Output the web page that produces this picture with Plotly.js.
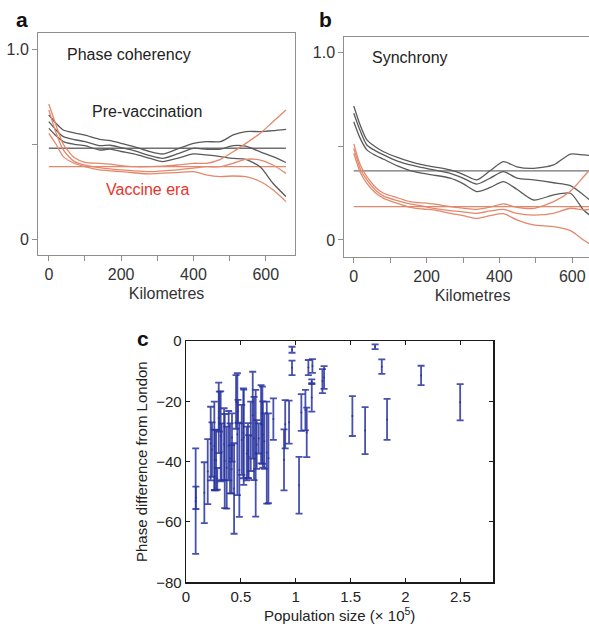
<!DOCTYPE html>
<html>
<head>
<meta charset="utf-8">
<script src="https://cdn.plot.ly/plotly-3.0.1.min.js"></script>
<style>
html, body { margin:0; padding:0; overflow:hidden; background:#fff; }
#chart { width:640px; height:629px; }
</style>
</head>
<body>
<div id="chart"></div>
<script>
// ---------- Panel a : phase coherency ----------
const kmA = [0, 20, 40, 70, 100, 140, 170, 200, 235, 280, 315, 355, 400, 435, 475, 510, 545, 585, 620, 656];
const aPreUpper = [0.654, 0.61, 0.575, 0.56, 0.548, 0.526, 0.519, 0.505, 0.488, 0.461, 0.449, 0.475, 0.505, 0.514, 0.514, 0.549, 0.567, 0.567, 0.572, 0.579];
const aPreMid   = [0.619, 0.575, 0.54, 0.525, 0.514, 0.493, 0.495, 0.482, 0.467, 0.44, 0.426, 0.449, 0.479, 0.474, 0.474, 0.493, 0.49, 0.46, 0.435, 0.404];
const aPreLower = [0.584, 0.545, 0.514, 0.5, 0.493, 0.47, 0.475, 0.462, 0.449, 0.426, 0.409, 0.426, 0.449, 0.444, 0.435, 0.426, 0.421, 0.38, 0.295, 0.225];
const aVacUpper = [0.712, 0.6, 0.5, 0.43, 0.405, 0.4, 0.395, 0.388, 0.382, 0.382, 0.385, 0.391, 0.4, 0.4, 0.421, 0.461, 0.505, 0.558, 0.619, 0.68];
const aVacMid   = [0.68, 0.56, 0.47, 0.41, 0.39, 0.377, 0.37, 0.365, 0.36, 0.356, 0.36, 0.365, 0.374, 0.382, 0.382, 0.4, 0.421, 0.417, 0.391, 0.347];
const aVacLower = [0.558, 0.5, 0.435, 0.4, 0.382, 0.365, 0.36, 0.356, 0.35, 0.344, 0.348, 0.351, 0.356, 0.339, 0.33, 0.333, 0.33, 0.304, 0.26, 0.198];
const aPreMean = 0.479;
const aVacMean = 0.382;

// ---------- Panel b : synchrony ----------
const kmB = [0, 18, 36, 60, 82, 120, 155, 190, 219, 265, 300, 338, 375, 411, 448, 494, 549, 595, 631, 656];
const bPreUpper = [0.714, 0.61, 0.533, 0.495, 0.47, 0.44, 0.417, 0.40, 0.39, 0.373, 0.35, 0.32, 0.37, 0.417, 0.39, 0.382, 0.40, 0.458, 0.453, 0.45];
const bPreMid   = [0.675, 0.58, 0.506, 0.475, 0.453, 0.42, 0.40, 0.385, 0.373, 0.355, 0.33, 0.298, 0.33, 0.364, 0.33, 0.32, 0.305, 0.29, 0.24, 0.20];
const bPreLower = [0.63, 0.54, 0.48, 0.45, 0.43, 0.395, 0.37, 0.355, 0.346, 0.329, 0.30, 0.258, 0.28, 0.311, 0.27, 0.213, 0.24, 0.249, 0.16, 0.12];
const bVacUpper = [0.512, 0.40, 0.337, 0.28, 0.249, 0.225, 0.204, 0.198, 0.192, 0.178, 0.17, 0.163, 0.175, 0.192, 0.174, 0.169, 0.204, 0.26, 0.337, 0.39];
const bVacMid   = [0.488, 0.38, 0.32, 0.265, 0.234, 0.21, 0.192, 0.18, 0.169, 0.156, 0.15, 0.142, 0.155, 0.163, 0.142, 0.133, 0.142, 0.169, 0.16, 0.165];
const bVacLower = [0.462, 0.36, 0.302, 0.25, 0.222, 0.195, 0.174, 0.165, 0.16, 0.142, 0.13, 0.115, 0.13, 0.14, 0.107, 0.08, 0.071, 0.05, 0.0, -0.03];
const bPreMean = 0.368;
const bVacMean = 0.178;
const meanSpan = [0, 656];

// ---------- Panel c : phase difference vs population ----------
const popSize = [0.088, 0.090, 0.167, 0.198, 0.225, 0.237, 0.258, 0.261, 0.274, 0.285, 0.298, 0.304, 0.316, 0.325, 0.347, 0.353, 0.371, 0.389, 0.401, 0.416, 0.419, 0.438, 0.456, 0.468, 0.474, 0.486, 0.508, 0.523, 0.526, 0.553, 0.565, 0.571, 0.590, 0.608, 0.620, 0.635, 0.644, 0.663, 0.684, 0.696, 0.700, 0.714, 0.736, 0.751, 0.796, 0.893, 0.904, 0.939, 0.966, 0.966, 1.030, 1.051, 1.088, 1.100, 1.115, 1.146, 1.146, 1.152, 1.243, 1.258, 1.516, 1.632, 1.723, 1.784, 1.832, 2.142, 2.498];
const phaseDiff = [-53.1, -52.0, -50.3, -43.3, -34.0, -36.0, -34.8, -39.4, -39.5, -45.7, -25.5, -23.4, -31.6, -36.7, -34.2, -39.8, -42.0, -34.7, -38.9, -42.5, -32.0, -48.9, -20.2, -30.9, -23.3, -42.8, -32.8, -30.6, -31.9, -37.3, -36.3, -38.4, -31.6, -24.6, -32.3, -37.2, -34.3, -32.3, -27.6, -27.9, -31.0, -33.2, -37.0, -38.9, -25.9, -39.4, -27.6, -26.9, -2.9, -8.9, -47.8, -23.7, -22.9, -30.3, -8.8, -13.5, -18.7, -8.3, -13.3, -12.1, -24.9, -29.7, -1.9, -8.5, -26.0, -11.4, -20.3];
const phaseErr = [17.5, 3.7, 10.1, 10.8, 12.2, 9.0, 14.7, 10.0, 10.0, 3.6, 11.7, 6.6, 14.9, 9.4, 11.9, 15.6, 13.6, 11.5, 11.6, 8.0, 8.0, 15.0, 8.9, 20.2, 3.8, 15.5, 11.6, 14.9, 15.8, 8.9, 9.1, 7.2, 11.5, 14.4, 13.8, 21.0, 8.1, 5.0, 13.0, 12.8, 11.0, 9.2, 16.9, 14.9, 6.9, 10.1, 8.0, 7.1, 1.0, 2.4, 9.4, 6.1, 6.7, 8.2, 2.5, 0.8, 4.7, 2.3, 4.0, 3.8, 6.6, 7.8, 0.8, 2.4, 6.8, 3.2, 6.0];

// tick labels
const kmTickVals = [0, 200, 400, 600];
const kmTickText = ['0', '200', '400', '600'];
const kmMinorVals = [100, 300, 500];
const corrTickVals = [0, 1];
const corrTickText = ['0', '1.0'];
const corrMinorVals = [0.5];
const popTickVals = [0, 0.5, 1, 1.5, 2, 2.5];
const popTickText = ['0', '0.5', '1', '1.5', '2', '2.5'];
const phaseTickVals = [0, -20, -40, -60, -80];
const phaseTickText = ['0', '−20', '−40', '−60', '−80'];

// ---------- styling ----------
const W = 640, H = 629;
const FONT = 'Liberation Sans, Arial, Helvetica, sans-serif';
const GRAY = '#5a5a5a';
const ORANGE = '#e4886b';
const BLUE = 'rgba(40,50,158,0.85)';
const px = v => v / W;
const py = v => 1 - v / H;

function curve(x, y, color, xa, ya) {
  return { x: x, y: y, xaxis: xa, yaxis: ya, type: 'scatter', mode: 'lines',
           line: { color: color, width: 1.3, shape: 'spline', smoothing: 0.7 },
           hoverinfo: 'skip' };
}
function hline(v, color, xa, ya) {
  return { x: meanSpan, y: [v, v], xaxis: xa, yaxis: ya, type: 'scatter', mode: 'lines',
           line: { color: color, width: 1.3 }, hoverinfo: 'skip' };
}

const traces = [
  hline(aPreMean, '#707070', 'x', 'y'),
  hline(aVacMean, ORANGE, 'x', 'y'),
  curve(kmA, aPreUpper, GRAY, 'x', 'y'),
  curve(kmA, aPreMid, GRAY, 'x', 'y'),
  curve(kmA, aPreLower, GRAY, 'x', 'y'),
  curve(kmA, aVacUpper, ORANGE, 'x', 'y'),
  curve(kmA, aVacMid, ORANGE, 'x', 'y'),
  curve(kmA, aVacLower, ORANGE, 'x', 'y'),

  hline(bPreMean, '#707070', 'x2', 'y2'),
  hline(bVacMean, ORANGE, 'x2', 'y2'),
  curve(kmB, bPreUpper, GRAY, 'x2', 'y2'),
  curve(kmB, bPreMid, GRAY, 'x2', 'y2'),
  curve(kmB, bPreLower, GRAY, 'x2', 'y2'),
  curve(kmB, bVacUpper, ORANGE, 'x2', 'y2'),
  curve(kmB, bVacMid, ORANGE, 'x2', 'y2'),
  curve(kmB, bVacLower, ORANGE, 'x2', 'y2'),

  { x: popSize, y: phaseDiff, xaxis: 'x3', yaxis: 'y3', type: 'scatter', mode: 'markers',
    marker: { color: BLUE, size: 2 },
    error_y: { type: 'data', array: phaseErr, symmetric: true, color: BLUE, thickness: 1.8, width: 3.5 },
    hoverinfo: 'skip' }
];

const frameAxis = {
  showline: true, mirror: true, linecolor: '#8f8f8f', linewidth: 1,
  ticks: 'outside', ticklen: 5, tickcolor: '#8f8f8f', tickwidth: 1,
  showgrid: false, zeroline: false, fixedrange: true,
  tickfont: { family: FONT, size: 16, color: '#333' }
};
const kmTitle = { text: 'Kilometres', font: { family: FONT, size: 16, color: '#333' }, standoff: 5 };
const kmAxis = { tickmode: 'array', tickvals: kmTickVals, ticktext: kmTickText,
  minor: { tickmode: 'array', tickvals: kmMinorVals, ticks: 'outside', ticklen: 5, tickcolor: '#8f8f8f', tickwidth: 1 } };
const corrAxis = { tickmode: 'array', tickvals: corrTickVals, ticktext: corrTickText,
  minor: { tickmode: 'array', tickvals: corrMinorVals, ticks: 'outside', ticklen: 5, tickcolor: '#8f8f8f', tickwidth: 1 } };

const cAxis = {
  showline: true, mirror: 'ticks', linecolor: '#1a1a1a', linewidth: 1.3,
  ticks: 'inside', ticklen: 4, tickcolor: '#1a1a1a', tickwidth: 1,
  showgrid: false, zeroline: false, fixedrange: true,
  tickfont: { family: FONT, size: 15, color: '#222' }
};

const layout = {
  width: W, height: H, autosize: false,
  margin: { l: 0, r: 0, t: 0, b: 0 },
  paper_bgcolor: '#fff', plot_bgcolor: '#fff',
  showlegend: false,
  font: { family: FONT, color: '#222' },
  xaxis: Object.assign({}, frameAxis, kmAxis, { domain: [px(38), px(295)], range: [-30, 681], anchor: 'y', title: kmTitle }),
  yaxis: Object.assign({}, frameAxis, corrAxis, { domain: [py(255), py(33)], range: [-0.083, 1.086], anchor: 'x' }),
  xaxis2: Object.assign({}, frameAxis, kmAxis, { domain: [px(344.3), px(601)], range: [-26, 679], anchor: 'y2', title: kmTitle }),
  yaxis2: Object.assign({}, frameAxis, corrAxis, { domain: [py(256.7), py(36.7)], range: [-0.089, 1.083], anchor: 'x2' }),
  xaxis3: Object.assign({}, cAxis, { domain: [px(186), px(493.3)], range: [0, 2.8], anchor: 'y3',
            tickmode: 'array', tickvals: popTickVals, ticktext: popTickText,
            title: { text: 'Population size (× 10<sup>5</sup>)', font: { family: FONT, size: 15, color: '#222' }, standoff: 7 } }),
  yaxis3: Object.assign({}, cAxis, { domain: [py(582.3), py(341)], range: [-80, 0], anchor: 'x3',
            tickmode: 'array', tickvals: phaseTickVals, ticktext: phaseTickText,
            title: { text: 'Phase difference from London', font: { family: FONT, size: 15, color: '#222' }, standoff: 5 } }),
  annotations: [
    { text: '<b>a</b>', x: px(14), y: py(20), xref: 'paper', yref: 'paper', xanchor: 'left', yanchor: 'middle', showarrow: false, font: { family: FONT, size: 21, color: '#111' } },
    { text: '<b>b</b>', x: px(317), y: py(20), xref: 'paper', yref: 'paper', xanchor: 'left', yanchor: 'middle', showarrow: false, font: { family: FONT, size: 21, color: '#111' } },
    { text: '<b>c</b>', x: px(135), y: py(338), xref: 'paper', yref: 'paper', xanchor: 'left', yanchor: 'middle', showarrow: false, font: { family: FONT, size: 21, color: '#111' } },
    { text: 'Phase coherency', x: px(65), y: py(55), xref: 'paper', yref: 'paper', xanchor: 'left', yanchor: 'middle', showarrow: false, font: { family: FONT, size: 16, color: '#222' } },
    { text: 'Pre-vaccination', x: px(90), y: py(111), xref: 'paper', yref: 'paper', xanchor: 'left', yanchor: 'middle', showarrow: false, font: { family: FONT, size: 16, color: '#222' } },
    { text: 'Vaccine era', x: px(104), y: py(190), xref: 'paper', yref: 'paper', xanchor: 'left', yanchor: 'middle', showarrow: false, font: { family: FONT, size: 16, color: '#e8332b' } },
    { text: 'Synchrony', x: px(370), y: py(58), xref: 'paper', yref: 'paper', xanchor: 'left', yanchor: 'middle', showarrow: false, font: { family: FONT, size: 16, color: '#222' } }
  ]
};

Plotly.newPlot('chart', traces, layout, { staticPlot: true, displayModeBar: false });
</script>
</body>
</html>
